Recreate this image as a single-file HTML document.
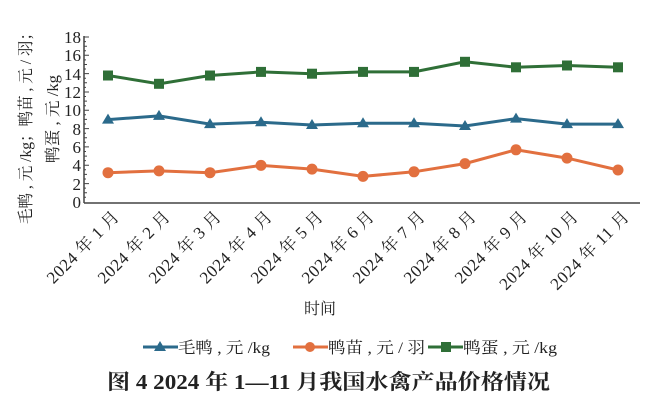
<!DOCTYPE html>
<html><head><meta charset="utf-8"><style>
body{margin:0;background:#fff;}
svg text{font-family:"Liberation Serif","Noto Serif CJK SC",serif;fill:#222;}
</style></head><body>
<svg width="662" height="402" viewBox="0 0 662 402" xmlns="http://www.w3.org/2000/svg">
<g stroke="#444" stroke-width="1.5" fill="none">
<line x1="84" y1="36" x2="84" y2="203"/>
<line x1="84" y1="203" x2="640" y2="203"/>
</g>
<g stroke="#444" stroke-width="1">
<path d="M84 37h5M84 46.2h3M84 55.3h5M84 64.5h3M84 73.6h5M84 82.8h3M84 92h5M84 101.1h3M84 110.3h5M84 119.4h3M84 128.6h5M84 137.8h3M84 146.9h5M84 156.1h3M84 165.2h5M84 174.4h3M84 183.6h5M84 192.7h3"/>
<path d="M84 41.6h2M84 50.7h2M84 59.9h2M84 69h2M84 78.2h2M84 87.4h2M84 96.5h2M84 105.7h2M84 114.8h2M84 124h2M84 133.2h2M84 142.3h2M84 151.5h2M84 160.6h2M84 169.8h2M84 179h2M84 188.1h2M84 197.3h2"/>
</g>
<g font-size="17" text-anchor="end">
<text x="81" y="43">18</text><text x="81" y="61">16</text><text x="81" y="80">14</text><text x="81" y="98">12</text><text x="81" y="116">10</text><text x="81" y="135">8</text><text x="81" y="153">6</text><text x="81" y="171">4</text><text x="81" y="190">2</text><text x="81" y="208">0</text>
</g>
<text font-size="16" transform="translate(31,224) rotate(-90)" textLength="199" lengthAdjust="spacingAndGlyphs">毛鸭 , 元 /kg；鸭苗 , 元 / 羽；</text>
<text font-size="16" transform="translate(58,163) rotate(-90)" textLength="88" lengthAdjust="spacingAndGlyphs">鸭蛋 , 元 /kg</text>
<polyline fill="none" stroke="#2f6f37" stroke-width="3" points="108,75.5 159,83.8 210,75.5 261,71.9 312,73.7 363,71.9 414,71.9 465,61.8 516,67.3 567,65.5 618,67.3"/>
<g fill="#2f6f37"><rect x="103" y="70.5" width="10" height="10"/><rect x="154" y="78.8" width="10" height="10"/><rect x="205" y="70.5" width="10" height="10"/><rect x="256" y="66.9" width="10" height="10"/><rect x="307" y="68.7" width="10" height="10"/><rect x="358" y="66.9" width="10" height="10"/><rect x="409" y="66.9" width="10" height="10"/><rect x="460" y="56.8" width="10" height="10"/><rect x="511" y="62.3" width="10" height="10"/><rect x="562" y="60.5" width="10" height="10"/><rect x="613" y="62.3" width="10" height="10"/></g>
<polyline fill="none" stroke="#2b6a8b" stroke-width="3" points="108,119.6 159,115.9 210,124.1 261,122.3 312,125 363,123.2 414,123.2 465,126 516,118.6 567,124.1 618,124.1"/>
<g fill="#2b6a8b">
<path d="M108,113.6l6,10h-12z M159,109.9l6,10h-12z M210,118.1l6,10h-12z M261,116.3l6,10h-12z M312,119l6,10h-12z M363,117.2l6,10h-12z M414,117.2l6,10h-12z M465,120l6,10h-12z M516,112.6l6,10h-12z M567,118.1l6,10h-12z M618,118.1l6,10h-12z"/></g>
<polyline fill="none" stroke="#e2703f" stroke-width="3" points="108,172.7 159,170.9 210,172.7 261,165.4 312,169.1 363,176.4 414,171.8 465,163.6 516,149.8 567,158.1 618,170"/>
<g fill="#e2703f"><circle cx="108" cy="172.7" r="5.5"/><circle cx="159" cy="170.9" r="5.5"/><circle cx="210" cy="172.7" r="5.5"/><circle cx="261" cy="165.4" r="5.5"/><circle cx="312" cy="169.1" r="5.5"/><circle cx="363" cy="176.4" r="5.5"/><circle cx="414" cy="171.8" r="5.5"/><circle cx="465" cy="163.6" r="5.5"/><circle cx="516" cy="149.8" r="5.5"/><circle cx="567" cy="158.1" r="5.5"/><circle cx="618" cy="170" r="5.5"/></g>
<g font-size="17" text-anchor="end" lengthAdjust="spacingAndGlyphs">
<text transform="translate(120,218) rotate(-45)" textLength="94">2024 年 1 月</text>
<text transform="translate(171,218) rotate(-45)" textLength="94">2024 年 2 月</text>
<text transform="translate(222,218) rotate(-45)" textLength="94">2024 年 3 月</text>
<text transform="translate(273,218) rotate(-45)" textLength="94">2024 年 4 月</text>
<text transform="translate(324,218) rotate(-45)" textLength="94">2024 年 5 月</text>
<text transform="translate(375,218) rotate(-45)" textLength="94">2024 年 6 月</text>
<text transform="translate(426,218) rotate(-45)" textLength="94">2024 年 7 月</text>
<text transform="translate(477,218) rotate(-45)" textLength="94">2024 年 8 月</text>
<text transform="translate(528,218) rotate(-45)" textLength="94">2024 年 9 月</text>
<text transform="translate(579,218) rotate(-45)" textLength="103">2024 年 10 月</text>
<text transform="translate(630,218) rotate(-45)" textLength="103">2024 年 11 月</text>
</g>
<text x="304" y="314" font-size="16">时间</text>
<line x1="143" y1="347" x2="178" y2="347" stroke="#2b6a8b" stroke-width="3"/><path d="M160,341l6,10h-12z" fill="#2b6a8b"/>
<text x="178" y="353" font-size="16" textLength="92" lengthAdjust="spacingAndGlyphs">毛鸭 , 元 /kg</text>
<line x1="293" y1="347" x2="328" y2="347" stroke="#e2703f" stroke-width="3"/><circle cx="310" cy="347" r="5" fill="#e2703f"/>
<text x="328" y="353" font-size="16" textLength="97" lengthAdjust="spacingAndGlyphs">鸭苗 , 元 / 羽</text>
<line x1="428" y1="347" x2="463" y2="347" stroke="#2f6f37" stroke-width="3"/><rect x="441" y="342" width="10" height="10" fill="#2f6f37"/>
<text x="463" y="353" font-size="16" textLength="94" lengthAdjust="spacingAndGlyphs">鸭蛋 , 元 /kg</text>
<text x="107" y="389" font-size="21" font-weight="bold" textLength="443" lengthAdjust="spacingAndGlyphs">图 4 2024 年 1—11 月我国水禽产品价格情况</text>
</svg>
</body></html>
